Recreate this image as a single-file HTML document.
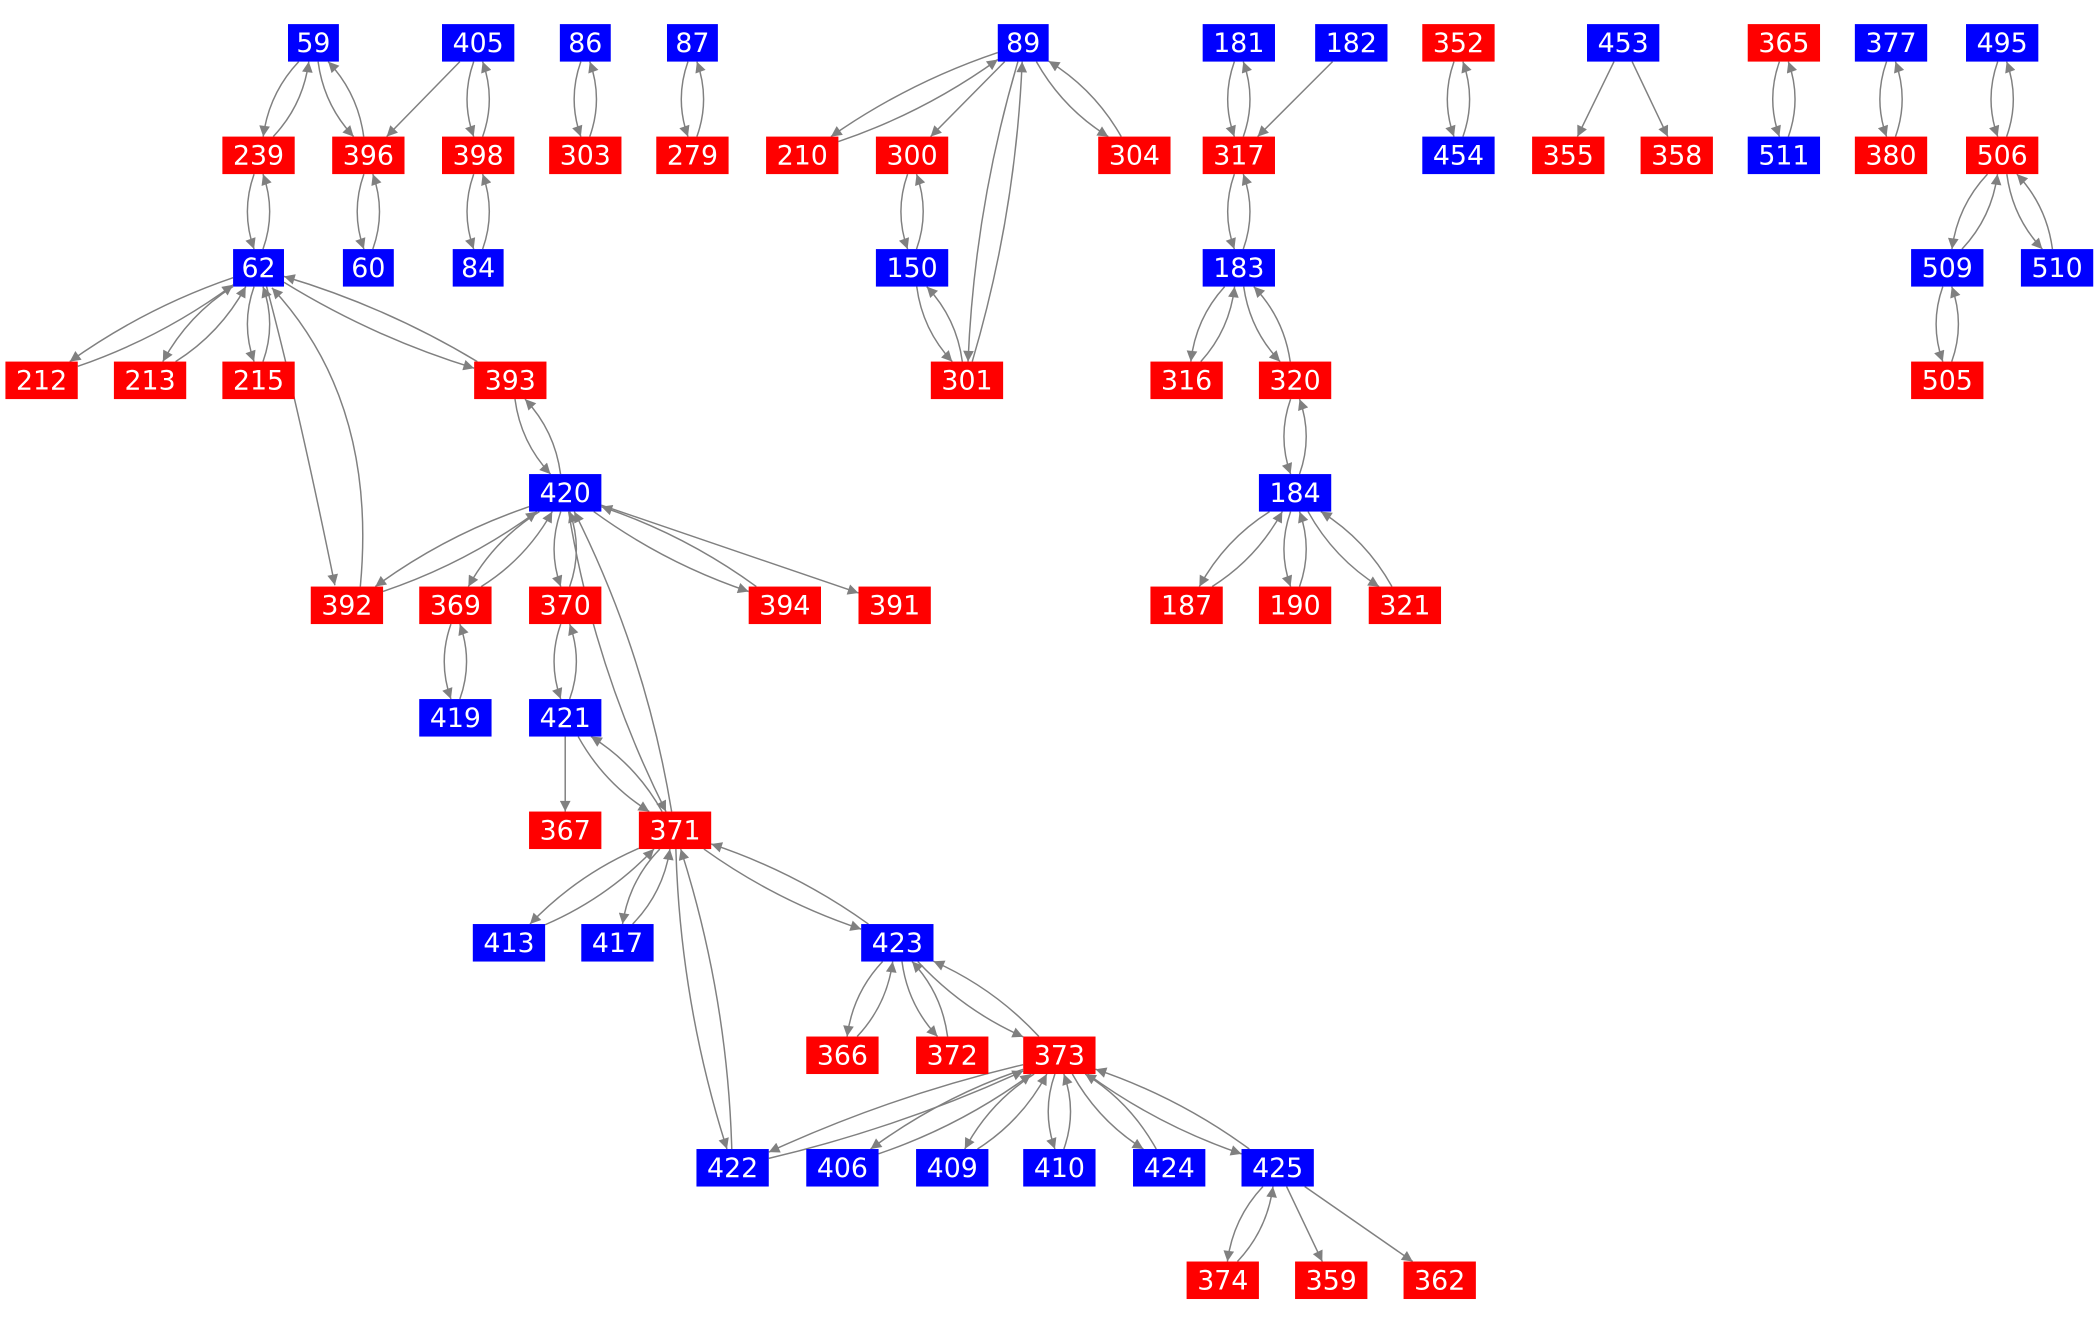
<!DOCTYPE html>
<html><head><meta charset="utf-8"><style>
html,body{margin:0;padding:0;background:#fff;}
svg{display:block;}
text{font-family:"DejaVu Sans","Liberation Sans",sans-serif;font-size:20px;fill:#fff;text-anchor:middle;}
</style></head><body>
<svg id="g" width="2100" height="1325" viewBox="0 0 1568 989.4" xmlns="http://www.w3.org/2000/svg">
<defs><marker id="a" viewBox="0 0 10 10" refX="10" refY="5" markerWidth="10" markerHeight="8" markerUnits="userSpaceOnUse" orient="auto"><path d="M0,0 L10,5 L0,10 z" fill="#808080"/></marker></defs>
<g id="edges" fill="none" stroke="#808080" stroke-width="1.1">
<path d="M199,214 Q222,300 250,437" marker-end="url(#a)"/>
<path d="M269,438 Q282,300 203,215" marker-end="url(#a)"/>
</g>
<g id="nodes">
<rect x="215" y="18" width="38" height="28" fill="#00f"/><text x="234" y="39">59</text>
<rect x="330" y="18" width="54" height="28" fill="#00f"/><text x="357" y="39">405</text>
<rect x="418" y="18" width="38" height="28" fill="#00f"/><text x="437" y="39">86</text>
<rect x="498" y="18" width="38" height="28" fill="#00f"/><text x="517" y="39">87</text>
<rect x="745" y="18" width="38" height="28" fill="#00f"/><text x="764" y="39">89</text>
<rect x="898" y="18" width="54" height="28" fill="#00f"/><text x="925" y="39">181</text>
<rect x="982" y="18" width="54" height="28" fill="#00f"/><text x="1009" y="39">182</text>
<rect x="1062" y="18" width="54" height="28" fill="#f00"/><text x="1089" y="39">352</text>
<rect x="1185" y="18" width="54" height="28" fill="#00f"/><text x="1212" y="39">453</text>
<rect x="1305" y="18" width="54" height="28" fill="#f00"/><text x="1332" y="39">365</text>
<rect x="1385" y="18" width="54" height="28" fill="#00f"/><text x="1412" y="39">377</text>
<rect x="1468" y="18" width="54" height="28" fill="#00f"/><text x="1495" y="39">495</text>

<rect x="166" y="102" width="54" height="28" fill="#f00"/><text x="193" y="123">239</text>
<rect x="248" y="102" width="54" height="28" fill="#f00"/><text x="275" y="123">396</text>
<rect x="330" y="102" width="54" height="28" fill="#f00"/><text x="357" y="123">398</text>
<rect x="410" y="102" width="54" height="28" fill="#f00"/><text x="437" y="123">303</text>
<rect x="490" y="102" width="54" height="28" fill="#f00"/><text x="517" y="123">279</text>
<rect x="572" y="102" width="54" height="28" fill="#f00"/><text x="599" y="123">210</text>
<rect x="654" y="102" width="54" height="28" fill="#f00"/><text x="681" y="123">300</text>
<rect x="820" y="102" width="54" height="28" fill="#f00"/><text x="847" y="123">304</text>
<rect x="898" y="102" width="54" height="28" fill="#f00"/><text x="925" y="123">317</text>
<rect x="1062" y="102" width="54" height="28" fill="#00f"/><text x="1089" y="123">454</text>
<rect x="1144" y="102" width="54" height="28" fill="#f00"/><text x="1171" y="123">355</text>
<rect x="1225" y="102" width="54" height="28" fill="#f00"/><text x="1252" y="123">358</text>
<rect x="1305" y="102" width="54" height="28" fill="#00f"/><text x="1332" y="123">511</text>
<rect x="1385" y="102" width="54" height="28" fill="#f00"/><text x="1412" y="123">380</text>
<rect x="1468" y="102" width="54" height="28" fill="#f00"/><text x="1495" y="123">506</text>

<rect x="174" y="186" width="38" height="28" fill="#00f"/><text x="193" y="207">62</text>
<rect x="256" y="186" width="38" height="28" fill="#00f"/><text x="275" y="207">60</text>
<rect x="338" y="186" width="38" height="28" fill="#00f"/><text x="357" y="207">84</text>
<rect x="654" y="186" width="54" height="28" fill="#00f"/><text x="681" y="207">150</text>
<rect x="898" y="186" width="54" height="28" fill="#00f"/><text x="925" y="207">183</text>
<rect x="1427" y="186" width="54" height="28" fill="#00f"/><text x="1454" y="207">509</text>
<rect x="1509" y="186" width="54" height="28" fill="#00f"/><text x="1536" y="207">510</text>

<rect x="4" y="270" width="54" height="28" fill="#f00"/><text x="31" y="291">212</text>
<rect x="85" y="270" width="54" height="28" fill="#f00"/><text x="112" y="291">213</text>
<rect x="166" y="270" width="54" height="28" fill="#f00"/><text x="193" y="291">215</text>
<rect x="354" y="270" width="54" height="28" fill="#f00"/><text x="381" y="291">393</text>
<rect x="695" y="270" width="54" height="28" fill="#f00"/><text x="722" y="291">301</text>
<rect x="859" y="270" width="54" height="28" fill="#f00"/><text x="886" y="291">316</text>
<rect x="940" y="270" width="54" height="28" fill="#f00"/><text x="967" y="291">320</text>
<rect x="1427" y="270" width="54" height="28" fill="#f00"/><text x="1454" y="291">505</text>

<rect x="395" y="354" width="54" height="28" fill="#00f"/><text x="422" y="375">420</text>
<rect x="940" y="354" width="54" height="28" fill="#00f"/><text x="967" y="375">184</text>

<rect x="232" y="438" width="54" height="28" fill="#f00"/><text x="259" y="459">392</text>
<rect x="313" y="438" width="54" height="28" fill="#f00"/><text x="340" y="459">369</text>
<rect x="395" y="438" width="54" height="28" fill="#f00"/><text x="422" y="459">370</text>
<rect x="559" y="438" width="54" height="28" fill="#f00"/><text x="586" y="459">394</text>
<rect x="641" y="438" width="54" height="28" fill="#f00"/><text x="668" y="459">391</text>
<rect x="859" y="438" width="54" height="28" fill="#f00"/><text x="886" y="459">187</text>
<rect x="940" y="438" width="54" height="28" fill="#f00"/><text x="967" y="459">190</text>
<rect x="1022" y="438" width="54" height="28" fill="#f00"/><text x="1049" y="459">321</text>

<rect x="313" y="522" width="54" height="28" fill="#00f"/><text x="340" y="543">419</text>
<rect x="395" y="522" width="54" height="28" fill="#00f"/><text x="422" y="543">421</text>

<rect x="395" y="606" width="54" height="28" fill="#f00"/><text x="422" y="627">367</text>
<rect x="477" y="606" width="54" height="28" fill="#f00"/><text x="504" y="627">371</text>

<rect x="353" y="690" width="54" height="28" fill="#00f"/><text x="380" y="711">413</text>
<rect x="434" y="690" width="54" height="28" fill="#00f"/><text x="461" y="711">417</text>
<rect x="643" y="690" width="54" height="28" fill="#00f"/><text x="670" y="711">423</text>

<rect x="602" y="774" width="54" height="28" fill="#f00"/><text x="629" y="795">366</text>
<rect x="684" y="774" width="54" height="28" fill="#f00"/><text x="711" y="795">372</text>
<rect x="764" y="774" width="54" height="28" fill="#f00"/><text x="791" y="795">373</text>

<rect x="520" y="858" width="54" height="28" fill="#00f"/><text x="547" y="879">422</text>
<rect x="602" y="858" width="54" height="28" fill="#00f"/><text x="629" y="879">406</text>
<rect x="684" y="858" width="54" height="28" fill="#00f"/><text x="711" y="879">409</text>
<rect x="764" y="858" width="54" height="28" fill="#00f"/><text x="791" y="879">410</text>
<rect x="846" y="858" width="54" height="28" fill="#00f"/><text x="873" y="879">424</text>
<rect x="927" y="858" width="54" height="28" fill="#00f"/><text x="954" y="879">425</text>

<rect x="886" y="942" width="54" height="28" fill="#f00"/><text x="913" y="963">374</text>
<rect x="967" y="942" width="54" height="28" fill="#f00"/><text x="994" y="963">359</text>
<rect x="1048" y="942" width="54" height="28" fill="#f00"/><text x="1075" y="963">362</text>
</g>
</svg>
<script>
(function(){
var N={};
document.querySelectorAll('#nodes rect').forEach(function(r){
  var t=r.nextElementSibling.textContent;
  N[t]={x:+r.getAttribute('x')+ +r.getAttribute('width')/2,y:+r.getAttribute('y')+14,w:+r.getAttribute('width')/2,h:14};
});
var pairs=[["59","239"],["59","396"],["396","60"],["405","398"],["398","84"],["86","303"],["87","279"],["239","62"],
["62","212"],["62","213"],["62","215"],["62","393"],["393","420"],["420","392"],["420","369"],["420","370"],["420","394"],["420","371",9],
["369","419"],["370","421"],["421","371"],["371","413"],["371","417"],["371","423"],["371","422",8],["423","366"],["423","372"],["423","373"],
["373","422"],["373","406"],["373","409"],["373","410"],["373","424"],["373","425"],["425","374"],
["89","210"],["89","304"],["89","301",7],["300","150"],["150","301"],
["181","317"],["317","183"],["183","316"],["183","320"],["320","184"],["184","187"],["184","190"],["184","321"],
["352","454"],["365","511"],["377","380"],["495","506"],["506","509"],["506","510"],["509","505"]];
var singles=[["405","396"],["182","317"],["453","355"],["453","358"],["420","391"],["421","367"],["425","359"],["425","362"],["89","300"]];
var G=document.getElementById('edges');
function clip(n,dx,dy){var sx=dx?n.w/Math.abs(dx):1e9,sy=dy?n.h/Math.abs(dy):1e9;var s=Math.min(sx,sy);return [n.x+dx*s,n.y+dy*s];}
function draw(a,b,off){
  var A=N[a],B=N[b];var dx=B.x-A.x,dy=B.y-A.y;var L=Math.hypot(dx,dy);var px=-dy/L,py=dx/L;
  var p=clip(A,dx+px*off*4,dy+py*off*4),q=clip(B,-dx+px*off*4,-dy+py*off*4);
  var mx=(p[0]+q[0])/2+px*off*2,my=(p[1]+q[1])/2+py*off*2;
  var e=document.createElementNS('http://www.w3.org/2000/svg','path');
  e.setAttribute('d','M'+p[0]+','+p[1]+' Q'+mx+','+my+' '+q[0]+','+q[1]);
  e.setAttribute('marker-end','url(#a)');G.appendChild(e);
}
pairs.forEach(function(p){var o=p[2]||5;draw(p[0],p[1],o);draw(p[1],p[0],o);});
singles.forEach(function(p){draw(p[0],p[1],0);});
})();
</script>
</body></html>
